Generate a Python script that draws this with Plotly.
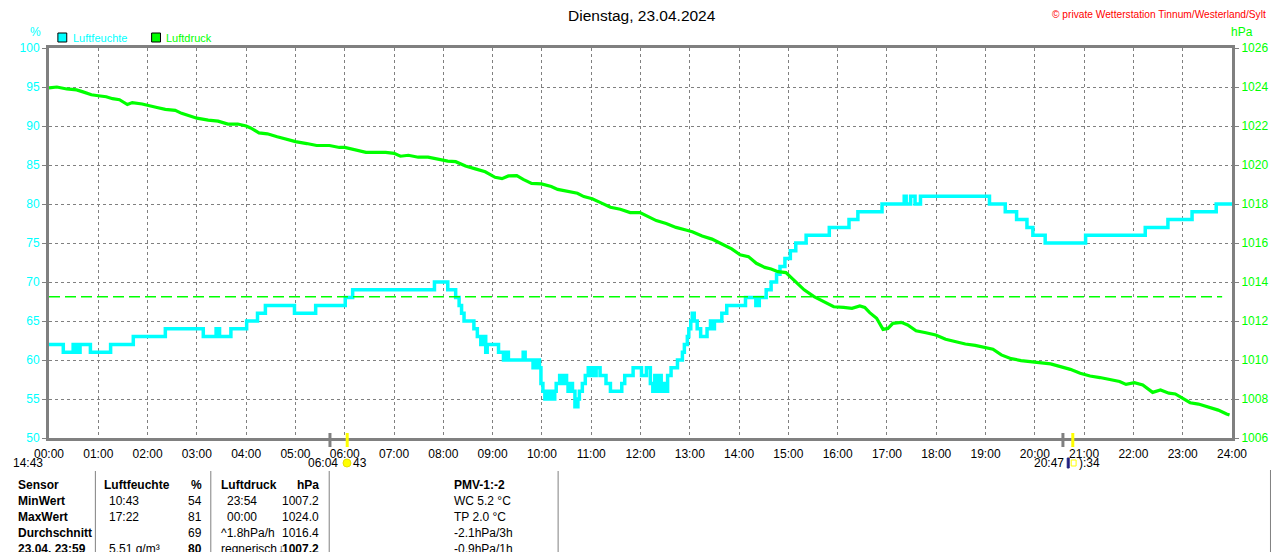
import plotly.graph_objects as go

# Luftfeuchte (%), Stufenwerte: Zeitpunkt der Aenderung in Stunden
hum_t = [0.0, 0.29, 0.49, 0.56, 0.63, 0.84, 1.25, 1.71, 2.36, 3.13, 3.39, 3.46, 3.69, 4.01,
         4.23, 4.39, 4.98, 5.41, 6.01, 6.16, 7.82, 8.09, 8.25, 8.32, 8.37, 8.42, 8.62, 8.69,
         8.76, 8.80, 8.86, 8.89, 9.12, 9.22, 9.25, 9.32, 9.62, 9.66, 9.82, 9.89, 9.95, 9.98,
         10.02, 10.06, 10.12, 10.15, 10.20, 10.23, 10.26, 10.29, 10.36, 10.43, 10.47, 10.50,
         10.53, 10.58, 10.62, 10.67, 10.73, 10.76, 10.82, 10.88, 10.94, 10.98, 11.02, 11.06,
         11.10, 11.18, 11.30, 11.39, 11.45, 11.62, 11.68, 11.75, 11.85, 12.02, 12.12, 12.20,
         12.25, 12.29, 12.34, 12.37, 12.42, 12.47, 12.52, 12.55, 12.62, 12.75, 12.85, 12.89,
         12.95, 12.98, 13.02, 13.05, 13.09, 13.15, 13.22, 13.35, 13.42, 13.45, 13.50, 13.65,
         13.75, 14.13, 14.34, 14.41, 14.55, 14.65, 14.76, 14.83, 14.93, 15.04, 15.15, 15.36,
         15.83, 16.23, 16.41, 16.90, 17.35, 17.39, 17.48, 17.57, 17.68, 19.08, 19.40, 19.63,
         19.84, 19.96, 20.21, 21.03, 22.24, 22.70, 23.19, 23.68, 24.0]
hum_v = [62, 61, 62, 61, 62, 61, 62, 63, 64, 63, 64, 63, 64, 65,
         66, 67, 66, 67, 68, 69, 70, 69, 68, 67, 66, 65, 64, 63,
         62, 63, 61, 62, 61, 60, 61, 60, 61, 60, 59, 60, 59, 57,
         56, 55, 56, 55, 56, 55, 56, 57, 58, 57, 58, 57,
         56, 57, 56, 54, 55, 56, 57, 58, 59, 58, 59, 58,
         59, 58, 57, 56, 56, 57, 58, 58, 59, 58, 59, 57,
         56, 58, 56, 58, 56, 57, 56, 58, 59, 60, 61, 62,
         63, 64, 65, 66, 65, 64, 63, 64, 65, 64, 65, 66,
         67, 68, 67, 68, 69, 70, 71, 72, 73, 74, 75, 76,
         77, 78, 79, 80, 81, 80, 81, 80, 81, 80, 79, 78,
         77, 76, 75, 76, 77, 78, 79, 80, 80]

# Luftdruck (hPa)
prs_t = [0.0, 0.16, 0.36, 0.56, 0.69, 0.86, 1.0, 1.16, 1.29, 1.43, 1.59, 1.69, 1.89, 2.03,
         2.19, 2.36, 2.56, 2.69, 2.86, 3.0, 3.23, 3.43, 3.63, 3.83, 4.0, 4.09, 4.26, 4.43,
         4.63, 4.83, 5.0, 5.23, 5.43, 5.69, 5.89, 6.0, 6.23, 6.43, 6.63, 6.83, 7.0, 7.13,
         7.29, 7.49, 7.69, 7.89, 8.09, 8.25, 8.45, 8.65, 8.85, 9.05, 9.19, 9.32, 9.49, 9.62,
         9.79, 9.99, 10.19, 10.32, 10.49, 10.72, 10.85, 11.02, 11.19, 11.39, 11.59, 11.79,
         11.99, 12.15, 12.32, 12.52, 12.72, 12.92, 13.05, 13.25, 13.45, 13.65, 13.85, 14.02,
         14.19, 14.35, 14.52, 14.65, 14.79, 14.95, 15.12, 15.32, 15.52, 15.72, 15.92, 16.12,
         16.29, 16.45, 16.55, 16.65, 16.79, 16.92, 17.02, 17.12, 17.29, 17.42, 17.59, 17.79,
         17.99, 18.19, 18.39, 18.59, 18.79, 18.99, 19.15, 19.32, 19.52, 19.72, 19.92, 20.12,
         20.32, 20.52, 20.72, 20.92, 21.12, 21.32, 21.52, 21.72, 21.85, 22.02, 22.19, 22.39,
         22.55, 22.72, 22.85, 22.99, 23.15, 23.32, 23.52, 23.72, 23.89, 23.95]
prs_v = [1023.95, 1024.0, 1023.9, 1023.85, 1023.75, 1023.6, 1023.55, 1023.5, 1023.4, 1023.35,
         1023.1, 1023.2, 1023.13, 1023.06, 1022.95, 1022.85, 1022.8, 1022.65, 1022.5, 1022.4,
         1022.3, 1022.25, 1022.1, 1022.1, 1022.0, 1021.9, 1021.65, 1021.6, 1021.45, 1021.3,
         1021.2, 1021.1, 1021.0, 1021.0, 1020.9, 1020.9, 1020.75, 1020.65, 1020.65, 1020.65,
         1020.6, 1020.45, 1020.5, 1020.4, 1020.4, 1020.3, 1020.2, 1020.17, 1019.95, 1019.8,
         1019.65, 1019.37, 1019.3, 1019.44, 1019.45, 1019.26, 1019.06, 1019.03, 1018.9, 1018.75,
         1018.65, 1018.55, 1018.38, 1018.27, 1018.07, 1017.83, 1017.73, 1017.56, 1017.56, 1017.35,
         1017.15, 1017.0, 1016.8, 1016.67, 1016.58, 1016.36, 1016.2, 1015.95, 1015.7, 1015.4,
         1015.3, 1014.96, 1014.75, 1014.67, 1014.53, 1014.48, 1014.07, 1013.6, 1013.25, 1013.0,
         1012.73, 1012.7, 1012.65, 1012.77, 1012.7, 1012.43, 1012.14, 1011.57, 1011.62, 1011.88,
         1011.93, 1011.8, 1011.5, 1011.4, 1011.28, 1011.06, 1010.94, 1010.82, 1010.75, 1010.65,
         1010.55, 1010.26, 1010.07, 1009.97, 1009.9, 1009.86, 1009.8, 1009.66, 1009.52, 1009.32,
         1009.18, 1009.1, 1009.0, 1008.9, 1008.75, 1008.84, 1008.72, 1008.34, 1008.46, 1008.3,
         1008.26, 1008.03, 1007.81, 1007.74, 1007.57, 1007.43, 1007.23, 1007.18]

prs_ref = 1013.25
ref_end = 23.8

hours = list(range(0, 25))
hour_labels = ["%02d:00" % h for h in hours]
hum_ticks = list(range(50, 101, 5))
prs_ticks = list(range(1006, 1027, 2))

# Daemmerung / Sonnenauf- und -untergang (Stunden)
twilight = [5.70, 20.57]
sun = [6.05, 20.77]

table_head = ["Sensor", "Luftfeuchte", "%", "Luftdruck", "hPa", "PMV-1:-2"]
table_rows = [
    ["MinWert", "10:43", "54", "23:54", "1007.2", "WC 5.2 °C"],
    ["MaxWert", "17:22", "81", "00:00", "1024.0", "TP 2.0 °C"],
    ["Durchschnitt", "", "69", "^1.8hPa/h", "1016.4", "-2.1hPa/3h"],
    ["23.04. 23:59", "5.51 g/m³", "80", "regnerisch", "1007.2", "-0.9hPa/1h"],
]
trend_arrow = "↓"

CYAN = "#00FFFF"
GREEN = "#00FF00"
GRAY = "#808080"
FONT = "Liberation Sans"

# page pixels; the browser puts the figure 8px in from the top-left corner
OFF = 8
L, R, T, B = 41, 40, 48, 114
W, H = 1280, 552
PW, PH = W - L - R, H - T - B


def px(x, y):
    return (x - L) / PW, (H - B - y) / PH


fig = go.Figure()

fig.add_trace(go.Scatter(x=[0, ref_end], y=[prs_ref, prs_ref], yaxis="y2", mode="lines",
                         line=dict(color=GREEN, width=1.5, dash="11px,5px"), hoverinfo="skip"))
fig.add_trace(go.Scatter(x=prs_t, y=prs_v, yaxis="y2", mode="lines", name="Luftdruck",
                         line=dict(color=GREEN, width=3.2)))
fig.add_trace(go.Scatter(x=hum_t, y=hum_v, mode="lines", name="Luftfeuchte",
                         line=dict(color=CYAN, width=3.5, shape="hv")))

fig.update_layout(
    width=W - OFF, height=H - OFF, margin=dict(l=L - OFF, r=R, t=T - OFF, b=B, pad=0),
    paper_bgcolor="white", plot_bgcolor="white", showlegend=False,
    font=dict(family=FONT, size=12, color="black"),
    xaxis=dict(range=[0, 24], tickvals=hours, ticktext=hour_labels, showgrid=True,
               gridcolor=GRAY, griddash="3px,3px", gridwidth=1, zeroline=False,
               showline=True, linecolor=GRAY, linewidth=3, mirror=True,
               ticks="outside", ticklen=3, tickcolor="rgba(0,0,0,0)",
               tickfont=dict(color="black", size=12)),
    yaxis=dict(range=[50, 100], tickvals=hum_ticks, showgrid=True, gridcolor=GRAY,
               griddash="3px,3px", gridwidth=1, zeroline=False, showline=True,
               linecolor=GRAY, linewidth=3, ticks="outside", ticklen=4, tickcolor=GRAY,
               tickfont=dict(color=CYAN, size=12)),
    yaxis2=dict(range=[1006, 1026], tickvals=prs_ticks, overlaying="y", side="right",
                showgrid=False, zeroline=False, showline=True, linecolor=GRAY, linewidth=3,
                ticks="outside", ticklen=4, tickcolor=GRAY,
                tickfont=dict(color=GREEN, size=12)),
)

ann = []


def text(x, y, s, color="black", size=12, anchor="left", bold=False):
    fx, fy = px(x, y)
    ann.append(dict(x=fx, y=fy, xref="paper", yref="paper", text="<b>%s</b>" % s if bold else s,
                    showarrow=False, xanchor=anchor, yanchor="middle",
                    font=dict(family=FONT, size=size, color=color)))


text(642, 15, "Dienstag, 23.04.2024", size=15.5, anchor="center")
text(1276, 14, "© private Wetterstation Tinnum/Westerland/Sylt", color="red", size=10.2, anchor="right")
text(27, 32, "%", color=CYAN, size=12, anchor="center")
text(1250, 32, "hPa", color=GREEN, size=12, anchor="center")
text(63, 38, "Luftfeuchte", color=CYAN, size=11)
text(158, 38, "Luftdruck", color=GREEN, size=11)

shapes = []


def box(x0, y0, x1, y1, fill, line="black", lw=1, kind="rect"):
    a, b = px(x0, y0)
    c, d = px(x1, y1)
    shapes.append(dict(type=kind, xref="paper", yref="paper", x0=a, y0=b, x1=c, y1=d,
                       fillcolor=fill, line=dict(color=line, width=lw)))


box(50, 33, 59, 42, CYAN)
box(145, 33, 154, 42, GREEN)

# Markierungen an der Zeitachse
for t, col in [(twilight[0], GRAY), (twilight[1], GRAY), (sun[0], "yellow"), (sun[1], "yellow")]:
    shapes.append(dict(type="line", xref="x", yref="paper", x0=t, x1=t,
                       y0=px(0, 433)[1], y1=px(0, 447)[1], line=dict(color=col, width=3)))

text(37, 463, "14:43", anchor="right")
shapes.append(dict(type="path", xref="paper", yref="paper",
                   path="M %f %f A 1 1 0 0 1 %f %f Z" % (px(40, 467) + px(49, 467)),
                   fillcolor="yellow", line=dict(color="yellow", width=1)))
text(336, 463, "06:04", anchor="right")
box(339, 459, 347, 467, "yellow", line="#E8E000", kind="circle")
text(347, 463, "43")
text(1072, 463, "20:47", anchor="right")
box(1073, 458, 1075, 468, "#202080", line="#202080")
box(1077, 460, 1082, 466, "white", line="yellow")
text(1083, 463, "):34")

# Tabelle
row_y = [485, 501, 517, 533, 549]
for i, row in enumerate([table_head] + table_rows):
    y = row_y[i]
    head = i == 0
    last = i == len(table_rows)
    text(8, y, row[0], bold=True)
    text(95 if head else 100, y, row[1], bold=head)
    text(198, y, row[2], anchor="right", bold=head or last)
    text(213 if (head or i >= 3) else 219, y, row[3], bold=head)
    text(317, y, row[4], anchor="right", bold=head or last)
    text(449, y, row[5], bold=head)
text(276, row_y[-1], trend_arrow, anchor="center", bold=True, size=12)

for sx, y0 in [(88, 471), (205, 471), (325, 471), (557, 471), (1279, 470)]:
    a, b = px(sx, y0)
    c, d = px(sx, 552)
    shapes.append(dict(type="line", xref="paper", yref="paper", x0=a, y0=b, x1=c, y1=d,
                       line=dict(color=GRAY, width=1)))

fig.update_layout(annotations=ann, shapes=shapes)
fig.write_html("out.html")
